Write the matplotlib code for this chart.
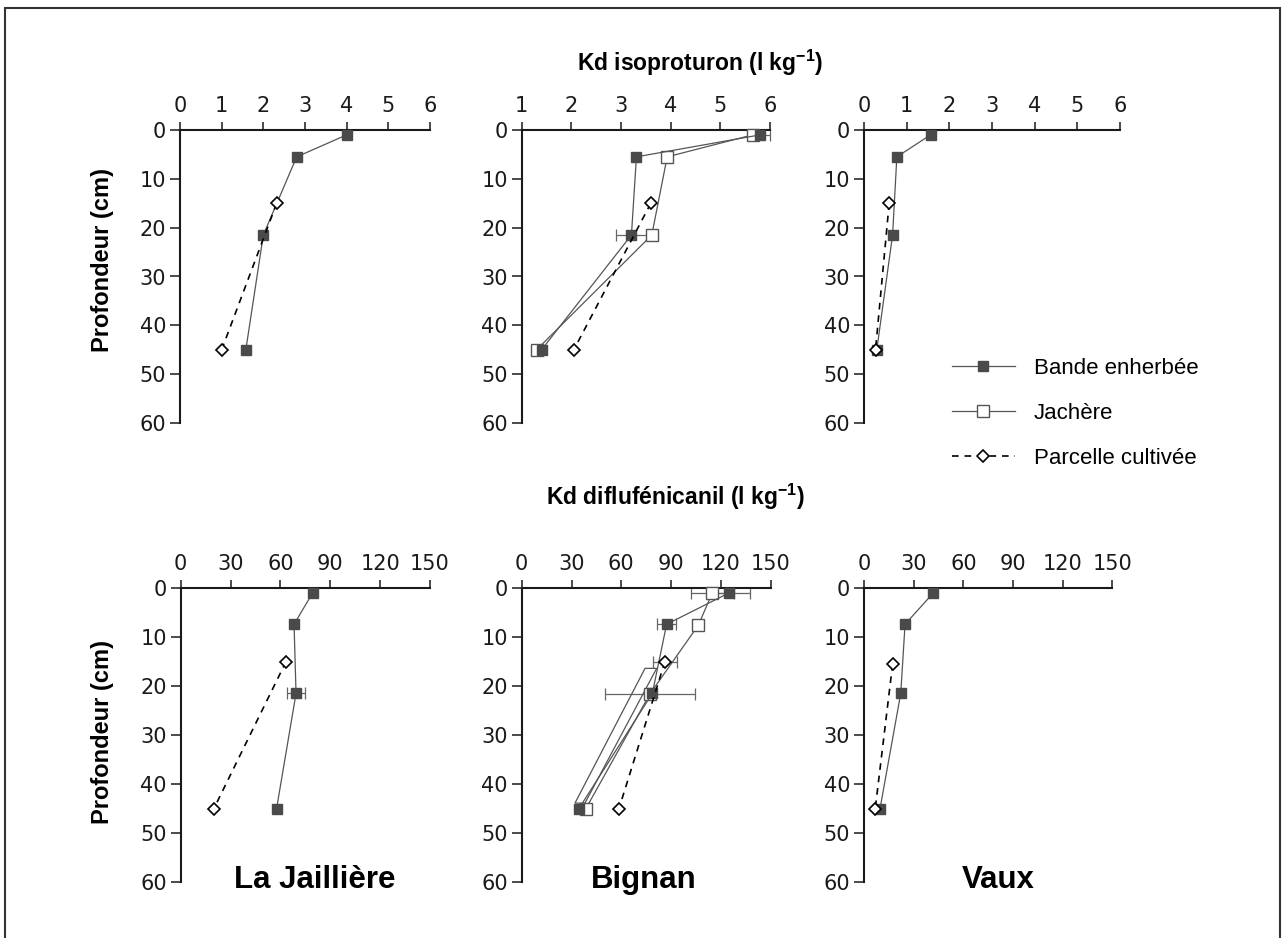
"""Kd isoproturon / diflufenicanil depth profiles for 3 sites (2x3 panels)."""
import matplotlib
matplotlib.use("Agg")
import matplotlib.pyplot as plt
import numpy as np
from matplotlib.patches import Rectangle, Polygon

plt.rcParams["mathtext.fontset"] = "custom"
plt.rcParams["mathtext.bf"] = "Liberation Sans:bold"
plt.rcParams["mathtext.rm"] = "Liberation Sans"

SITES = ["La Jaillière", "Bignan", "Vaux"]
NaN = np.nan

# --- isoproturon (l kg-1) ---
iso_depth = [1, 5.5, 21.5, 45]
iso_bande = {"La Jaillière": [4.0, 2.8, 2.0, 1.58],
             "Bignan": [5.8, 3.31, 3.21, 1.40],
             "Vaux": [1.56, 0.77, 0.67, 0.30]}
iso_bande_err = {"Bignan": [0.2, NaN, 0.31, NaN]}
iso_jach_bignan = [5.65, 3.93, 3.62, 1.30]
iso_parc_depth = [15, 45]
iso_parc = {"La Jaillière": [2.32, 1.0],
            "Bignan": [3.60, 2.05],
            "Vaux": [0.59, 0.27]}

# --- diflufenicanil (l kg-1) ---
dff_depth = [1, 7.4, 21.5, 45]
dff_bande = {"La Jaillière": [79.4, 68.2, 69.4, 57.7],
             "Bignan": [124.9, 87.3, 78.7, 34.5],
             "Vaux": [41.9, 24.8, 22.2, 9.7]}
dff_bande_err = {"La Jaillière": [NaN, NaN, 5.5, NaN],
                 "Bignan": [12.5, 5.5, NaN, NaN]}
dff_jach_depth = [1, 7.6, 21.6, 45]
dff_jach_bignan = [114.8, 106.4, 77.3, 38.7]
dff_jach_err = [13, NaN, 27, NaN]
dff_parc_depth = {"La Jaillière": [15, 45], "Bignan": [15, 45], "Vaux": [15.5, 45]}
dff_parc = {"La Jaillière": [63.4, 20.0],
            "Bignan": [86.3, 58.6],
            "Vaux": [17.3, 6.8]}
dff_parc_err = {"Bignan": [7.5, NaN]}
# stray outline left in the original Bignan drawing
bignan_outline_x = [32.1, 74.3, 81.3, 38.1]
bignan_outline_y = [43.9, 16.4, 16.4, 43.9]

iso_xlim = {"La Jaillière": (0, 6), "Bignan": (1, 6), "Vaux": (0, 6)}
iso_xticks = {"La Jaillière": range(0, 7), "Bignan": range(1, 7), "Vaux": range(0, 7)}
dff_xticks = range(0, 151, 30)

W, H = 1286, 938
fig = plt.figure(figsize=(W / 100, H / 100), dpi=100)

GREY = "#555555"
DARK = "#4a4a4a"


def px_axes(x0, x1, y0, y1):
    return fig.add_axes([x0 / W, 1 - y1 / H, (x1 - x0) / W, (y1 - y0) / H])


def style(ax, xlim, xticks):
    ax.set_xlim(*xlim)
    ax.set_ylim(60, 0)
    ax.set_xticks(list(xticks))
    ax.set_yticks(range(0, 61, 10))
    ax.xaxis.tick_top()
    for s in ("right", "bottom"):
        ax.spines[s].set_visible(False)
    for s in ("top", "left"):
        ax.spines[s].set_linewidth(1.5)
        ax.spines[s].set_color("#1a1a1a")
    ax.tick_params(axis="x", direction="out", length=6, width=1.1, pad=4,
                   labelsize=15, colors="#1a1a1a")
    ax.tick_params(axis="y", direction="out", length=7, width=1.1, pad=3,
                   labelsize=15, colors="#1a1a1a")
    ax.patch.set_alpha(0)


def bande(ax, x, d, err=None):
    ax.plot(x, d, color=GREY, lw=0.9, marker="s", ms=7.5, mfc=DARK, mec=DARK,
            clip_on=False, zorder=4, label="Bande enherbée")
    if err is not None:
        ax.errorbar(x, d, xerr=err, fmt="none", ecolor="#666666", elinewidth=0.9,
                    capsize=4, capthick=0.9, clip_on=False, zorder=2)


def jachere(ax, x, d, err=None):
    ax.plot(x, d, color=GREY, lw=0.9, marker="s", ms=8.5, mfc="white", mec=GREY,
            mew=1.0, clip_on=False, zorder=3, label="Jachère")
    if err is not None:
        ax.errorbar(x, d, xerr=err, fmt="none", ecolor="#666666", elinewidth=0.9,
                    capsize=4, capthick=0.9, clip_on=False, zorder=2)


def parcelle(ax, x, d, err=None):
    ax.plot(x, d, color="black", lw=1.2, ls=(0, (4, 3.5)), marker="D", ms=6,
            mfc="white", mec="black", mew=1.2, clip_on=False, zorder=5,
            label="Parcelle cultivée")
    if err is not None:
        ax.errorbar(x, d, xerr=err, fmt="none", ecolor="#666666", elinewidth=0.9,
                    capsize=4, capthick=0.9, clip_on=False, zorder=2)


top_x = [(180, 430), (521.7, 770), (864, 1120)]
bot_x = [(180.7, 430), (521.7, 770.7), (864, 1112.3)]

legend_ax = None
for i, site in enumerate(SITES):
    ax = px_axes(top_x[i][0], top_x[i][1], 130, 423)
    style(ax, iso_xlim[site], iso_xticks[site])
    bande(ax, iso_bande[site], iso_depth, iso_bande_err.get(site))
    if site == "Bignan":
        jachere(ax, iso_jach_bignan, iso_depth)
        legend_ax = ax
    parcelle(ax, iso_parc[site], iso_parc_depth)

    ax = px_axes(bot_x[i][0], bot_x[i][1], 588, 882)
    style(ax, (0, 150), dff_xticks)
    bande(ax, dff_bande[site], dff_depth, dff_bande_err.get(site))
    if site == "Bignan":
        jachere(ax, dff_jach_bignan, dff_jach_depth, dff_jach_err)
        ax.add_patch(Polygon(list(zip(bignan_outline_x, bignan_outline_y)),
                             closed=True, fill=False, ec=GREY, lw=0.9, zorder=2))
    parcelle(ax, dff_parc[site], dff_parc_depth[site], dff_parc_err.get(site))

# axis labels and titles
for yc in (260, 732):
    fig.text(103 / W, 1 - yc / H, "Profondeur (cm)", rotation=90, ha="center",
             va="center", fontsize=17, fontweight="bold", family="Liberation Sans")
fig.text(700 / W, 1 - 63 / H, r"Kd isoproturon (l kg$^{\mathbf{-1}}$)",
         ha="center", va="center", fontsize=16.5, fontweight="bold",
         family="Liberation Sans")
fig.text(675 / W, 1 - 497 / H, r"Kd diflufénicanil (l kg$^{\mathbf{-1}}$)",
         ha="center", va="center", fontsize=16.5, fontweight="bold",
         family="Liberation Sans")
for site, xc in zip(SITES, (315, 644, 998)):
    fig.text(xc / W, 1 - 880 / H, site, ha="center", va="center", fontsize=22.5,
             fontweight="bold", family="Liberation Sans")

handles, labels = legend_ax.get_legend_handles_labels()
fig.legend(handles, labels, loc="upper left",
           bbox_to_anchor=(951.7 / W, 1 - 358 / H), frameon=False,
           borderpad=0, borderaxespad=0, handlelength=2.85, handletextpad=0.85,
           labelspacing=1.07, prop={"family": "Liberation Sans", "size": 16})

# frame round the whole figure; bottom edge runs off the canvas as in the source
fig.patches.append(Rectangle((5 / W, -0.01), 1275 / W, 1.01 - 8 / H,
                             transform=fig.transFigure, fill=False,
                             ec="#333333", lw=1.5))

fig.savefig("out.png", dpi=100)
